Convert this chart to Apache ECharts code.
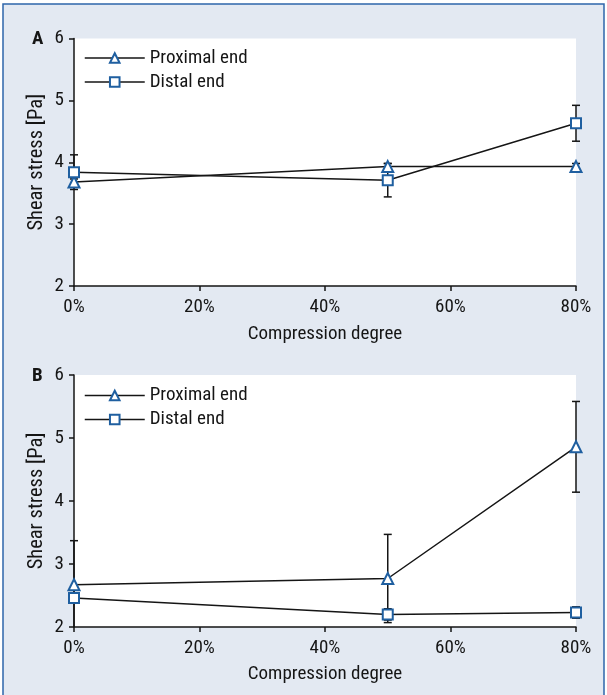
<!DOCTYPE html>
<html><head><meta charset="utf-8">
<script src="https://cdn.jsdelivr.net/npm/echarts@6/dist/echarts.min.js"></script>
<style>html,body{margin:0;padding:0;background:#fff}#c{width:607px;height:695px}</style>
</head><body><div id="c"></div>
<script>
const xValues = [0, 50, 80];
const xTickStep = 20;
const yMin = 2, yMax = 6, yStep = 1;
const seriesNames = ['Proximal end', 'Distal end'];
const panelLabels = ['A', 'B'];
const aProximal = [3.68, 3.93, 3.93];
const aProximalErr = [0.05, 0.05, 0.05];
const aDistal = [3.84, 3.71, 4.63];
const aDistalErr = [0.28, 0.27, 0.29];
const bProximal = [2.67, 2.77, 4.86];
const bProximalErr = [0.70, 0.70, 0.72];
const bDistal = [2.46, 2.20, 2.23];
const bDistalErr = [0.05, 0.09, 0.09];

const FONT = "'Roboto Condensed', 'DejaVu Sans Condensed', sans-serif";
const FS = 19;
const BLUE = '#1f5fa0';
const INK = '#151515';

function pts(vals){ return xValues.map((x,i)=>[x, vals[i]]); }
function errs(vals, e){ return xValues.map((x,i)=>[x, vals[i]-e[i], vals[i]+e[i]]); }

function errRender(params, api){
  const x = api.value(0);
  let lo = api.value(1), hi = api.value(2);
  const loCap = lo >= yMin, hiCap = hi <= yMax;
  lo = Math.max(lo, yMin); hi = Math.min(hi, yMax);
  const p1 = api.coord([x, hi]), p2 = api.coord([x, lo]);
  const w = 4, st = {stroke: INK, lineWidth: 1.5};
  const ch = [{type:'line', shape:{x1:p1[0],y1:p1[1],x2:p2[0],y2:p2[1]}, style:st}];
  if (hiCap) ch.push({type:'line', shape:{x1:p1[0]-w,y1:p1[1],x2:p1[0]+w,y2:p1[1]}, style:st});
  if (loCap) ch.push({type:'line', shape:{x1:p2[0]-w,y1:p2[1],x2:p2[0]+w,y2:p2[1]}, style:st});
  return {type:'group', children: ch};
}

const grids = [
  {left:74, top:38.5, width:502, height:247.5},
  {left:74, top:375, width:502, height:252}
];
const axisFont = {fontFamily: FONT, fontSize: FS, color: INK};

const xAxes = grids.map((g,i)=>({
  type:'value', gridIndex:i, min:0, max:80, interval:xTickStep,
  name:'Compression degree', nameLocation:'middle', nameGap: i===0 ? 39 : 38,
  nameTextStyle: axisFont,
  axisLine:{show:true, lineStyle:{color:INK, width:1.5}},
  axisTick:{show:true, length:5, lineStyle:{color:INK, width:1.5}},
  axisLabel:{...axisFont, margin:12, formatter:'{value}%'},
  splitLine:{show:false}
}));
const yAxes = grids.map((g,i)=>({
  type:'value', gridIndex:i, min:yMin, max:yMax, interval:yStep,
  name:'Shear stress [Pa]', nameLocation:'middle', nameGap:27, nameRotate:90,
  nameMoveOverlap:false,
  nameTextStyle: {...axisFont, fontSize:20.5},
  axisLine:{show:true, lineStyle:{color:INK, width:1.5}},
  axisTick:{show:true, length:5, lineStyle:{color:INK, width:1.5}},
  axisLabel:{...axisFont, margin:10},
  splitLine:{show:false}
}));

function lineSeries(name, sym, size, data, gi){
  return {
    type:'line', name, xAxisIndex:gi, yAxisIndex:gi, data,
    symbol:sym, symbolSize:size, showAllSymbol:true, z:5,
    lineStyle:{color:INK, width:1.5},
    itemStyle:{color:'#fff', borderColor:BLUE, borderWidth:2},
    emphasis:{disabled:true}, animation:false
  };
}
function errSeries(data, gi){
  return {type:'custom', xAxisIndex:gi, yAxisIndex:gi, data, renderItem:errRender,
    encode:{x:0, y:[1,2]}, z:3, animation:false, silent:true};
}

const series = [
  errSeries(errs(aProximal, aProximalErr), 0),
  errSeries(errs(aDistal, aDistalErr), 0),
  lineSeries(seriesNames[0], 'triangle', 11, pts(aProximal), 0),
  lineSeries(seriesNames[1], 'rect', 10, pts(aDistal), 0),
  errSeries(errs(bProximal, bProximalErr), 1),
  errSeries(errs(bDistal, bDistalErr), 1),
  lineSeries(seriesNames[0], 'triangle', 11, pts(bProximal), 1),
  lineSeries(seriesNames[1], 'rect', 10, pts(bDistal), 1)
];

const legendBase = {
  orient:'vertical', left:84, padding:0, itemWidth:60, itemHeight:12, itemGap:5,
  data: seriesNames, selectedMode:false,
  textStyle:{fontFamily:FONT, fontSize:FS, color:INK},
  itemStyle:{color:'#fff', borderColor:BLUE, borderWidth:2},
  lineStyle:{color:INK, width:1.5}
};

const chart = echarts.init(document.getElementById('c'), null, {renderer:'canvas'});
chart.setOption({
  animation:false,
  backgroundColor:'#ffffff',
  graphic:[
    {type:'rect', z:-10, silent:true, shape:{x:3, y:4, width:601, height:700},
     style:{fill:'#e3e9f2', stroke:'#2e65aa', lineWidth:1.5}},
    {type:'text', left:32, top:30, silent:true, style:{text:panelLabels[0], font:"bold 19px "+FONT, fill:INK}},
    {type:'text', left:32, top:367, silent:true, style:{text:panelLabels[1], font:"bold 19px "+FONT, fill:INK}}
  ],
  grid: grids.map(g=>({...g, show:true, backgroundColor:'#fff', borderWidth:0, containLabel:false})),
  xAxis: xAxes, yAxis: yAxes,
  legend:[{...legendBase, top:48.5}, {...legendBase, top:386}],
  series
});
</script></body></html>
